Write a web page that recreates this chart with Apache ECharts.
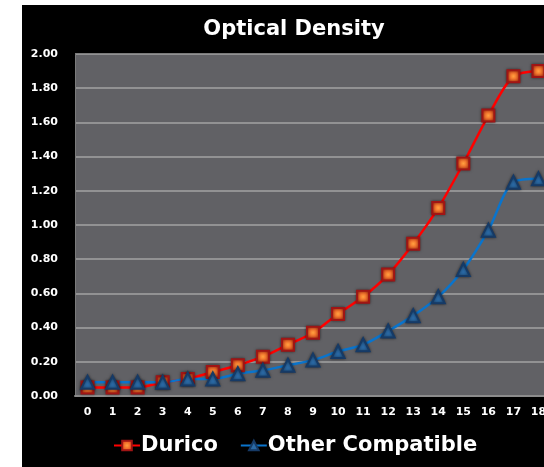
<!DOCTYPE html>
<html><head><meta charset="utf-8">
<script src="https://cdn.jsdelivr.net/npm/echarts@6/dist/echarts.min.js"></script>
<style>html,body{margin:0;padding:0;background:#fff;overflow:hidden;width:544px;height:467px;}#c{position:absolute;left:22px;top:5px;width:570px;height:462px;}</style>
</head><body><div id="c"></div>
<script>
const categories = ['0','1','2','3','4','5','6','7','8','9','10','11','12','13','14','15','16','17','18'];
const durico = [0.05,0.05,0.05,0.08,0.10,0.14,0.18,0.23,0.30,0.37,0.48,0.58,0.71,0.89,1.10,1.36,1.64,1.87,1.90];
const otherCompatible = [0.08,0.08,0.08,0.08,0.10,0.10,0.13,0.15,0.18,0.21,0.26,0.30,0.38,0.47,0.58,0.74,0.97,1.25,1.27];
const yTicks = {min:0, max:2, interval:0.2};

const chart = echarts.init(document.getElementById('c'));
const font = '"DejaVu Sans", Verdana, sans-serif';
chart.setOption({
  backgroundColor:'#000',
  animation:false,
  title:{text:'Optical Density', left:267, top:9, textAlign:'center',
    textStyle:{color:'#fff', fontSize:21, fontWeight:'bold', fontFamily:font}},
  legend:{top:425, left:86, itemGap:22, itemWidth:26, itemHeight:12,
    textStyle:{color:'#fff', fontSize:21, fontWeight:'bold', fontFamily:font, padding:[0,0,0,-4]},
    data:['Durico','Other Compatible']},
  grid:{left:53, top:49, width:476, height:342, show:true, backgroundColor:'#616165', borderWidth:0},
  xAxis:{type:'category', data:categories, boundaryGap:true,
    axisLine:{lineStyle:{color:'#8c8c8c', width:2}}, axisTick:{show:false},
    axisLabel:{color:'#fff', fontSize:11, fontWeight:'bold', fontFamily:font, margin:11, interval:0}},
  yAxis:{type:'value', min:yTicks.min, max:yTicks.max, interval:yTicks.interval,
    axisLine:{show:true, lineStyle:{color:'#7a7a7a', width:1}}, axisTick:{show:false},
    axisLabel:{color:'#fff', fontSize:11, fontWeight:'bold', fontFamily:font, margin:17,
      formatter:v=>v.toFixed(2)},
    splitLine:{lineStyle:{color:'#a3a3a3', width:1.5}}},
  series:[
    {name:'Durico', type:'line', data:durico, smooth:0.3, symbol:'rect', symbolSize:12,
     lineStyle:{color:'#ff0000', width:2.5},
     itemStyle:{color:{type:'radial',x:0.5,y:0.5,r:0.6,colorStops:[{offset:0,color:'#ffa040'},{offset:1,color:'#e03010'}]},
       borderColor:'#a01515', borderWidth:2, shadowColor:'rgba(0,0,0,0.5)', shadowBlur:3}},
    {name:'Other Compatible', type:'line', data:otherCompatible, smooth:0.3, symbol:'triangle', symbolSize:13,
     lineStyle:{color:'#0a74cc', width:2.5},
     itemStyle:{color:'#2b6aa6', borderColor:'#163a66', borderWidth:2, shadowColor:'rgba(0,0,0,0.5)', shadowBlur:3}}
  ]
});
</script></body></html>
